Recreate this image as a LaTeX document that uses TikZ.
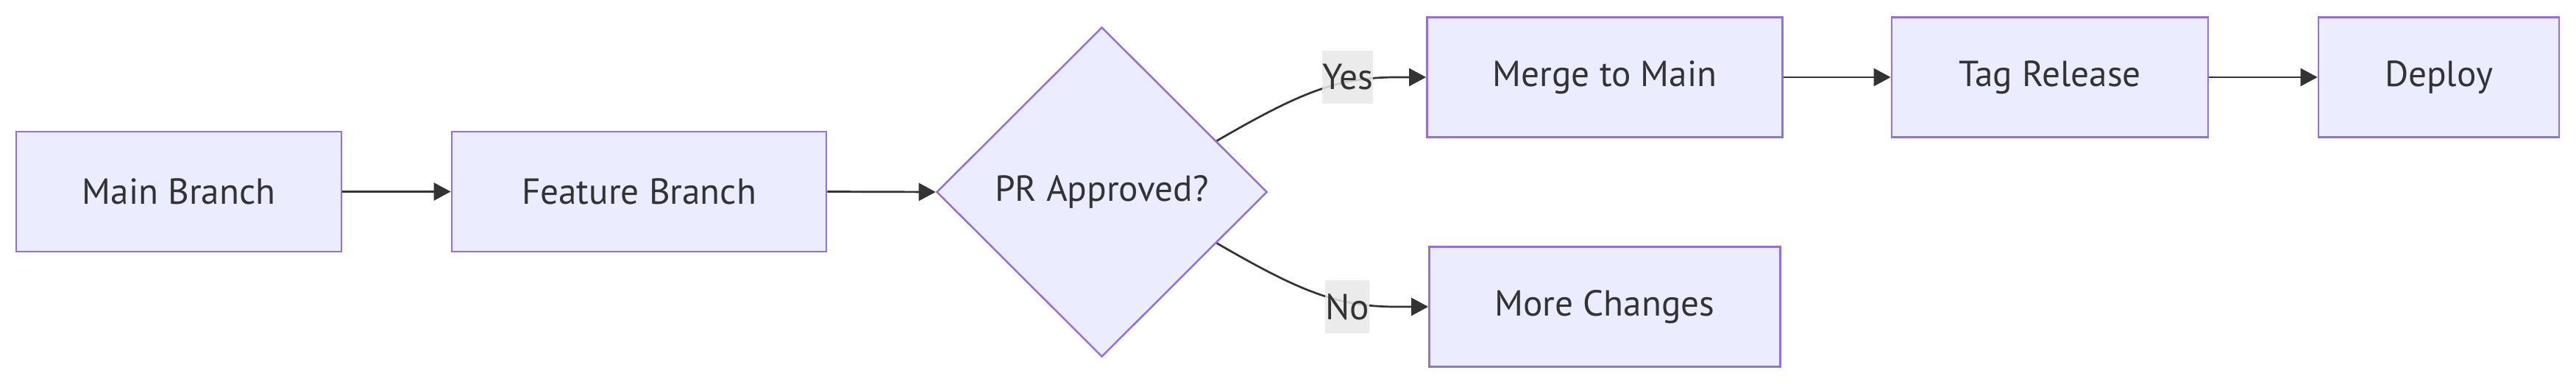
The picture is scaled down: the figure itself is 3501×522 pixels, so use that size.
\documentclass[tikz,border=0pt]{standalone}
\usepackage{fontspec}
\setmainfont{PT Sans}
\usetikzlibrary{shapes.geometric,arrows.meta}
\definecolor{nodefill}{HTML}{ECECFF}
\definecolor{nodeborder}{HTML}{9370DB}
\definecolor{ink}{HTML}{333333}
\definecolor{labelbg}{HTML}{E8E8E8}
\tikzset{
  box/.style={draw=nodeborder, fill=nodefill, line width=0.025cm, minimum height=1.63cm,
    inner sep=0pt, text=ink, font=\fontsize{14pt}{16pt}\selectfont},
  decision/.style={diamond, aspect=1, draw=nodeborder, fill=nodefill, line width=0.025cm,
    minimum width=4.49cm, minimum height=4.48cm, inner sep=0pt, text=ink,
    font=\fontsize{14pt}{16pt}\selectfont},
  edgelabel/.style={fill=labelbg, fill opacity=0.85, text opacity=1, text=ink, inner sep=0pt,
    minimum height=0.72cm, font=\fontsize{14pt}{16pt}\selectfont},
  conn/.style={draw=ink, line width=0.027cm, -{Triangle[length=0.23cm, width=0.24cm]}}
}
\begin{document}
\begin{tikzpicture}[x=0.01cm, y=-0.01cm]
\useasboundingbox (0,0) rectangle (3501,522);
\node[box, minimum width=4.42cm] (main) at (243,260.5) {Main Branch};
\node[box, minimum width=5.09cm] (feat) at (868.5,260.5) {Feature Branch};
\node[decision] (dec) at (1497.5,261) {PR Approved?};
\node[box, minimum width=4.83cm] (merge) at (2181,105) {Merge to Main};
\node[box, minimum width=4.30cm] (tag) at (2786,105) {Tag Release};
\node[box, minimum width=3.27cm] (deploy) at (3314.5,105) {Deploy};
\node[box, minimum width=4.77cm] (more) at (2181,417) {More Changes};

\draw[conn] (main.east) -- (feat.west);
\draw[conn] (feat.east) -- (dec.west);
\draw[conn] (dec.24.5) .. controls (1770,124) and (1820,104) .. (1905,105) -- (merge.west);
\draw[conn] (dec.-24.9) .. controls (1770,398) and (1820,418) .. (1905,417) -- (more.west);
\draw[conn] (merge.east) -- (tag.west);
\draw[conn] (tag.east) -- (deploy.west);

\node[edgelabel, minimum width=0.69cm] (yes) at (1831.5,105) {Yes};
\node[edgelabel, minimum width=0.56cm] (no) at (1831,417) {No};
\end{tikzpicture}
\end{document}
